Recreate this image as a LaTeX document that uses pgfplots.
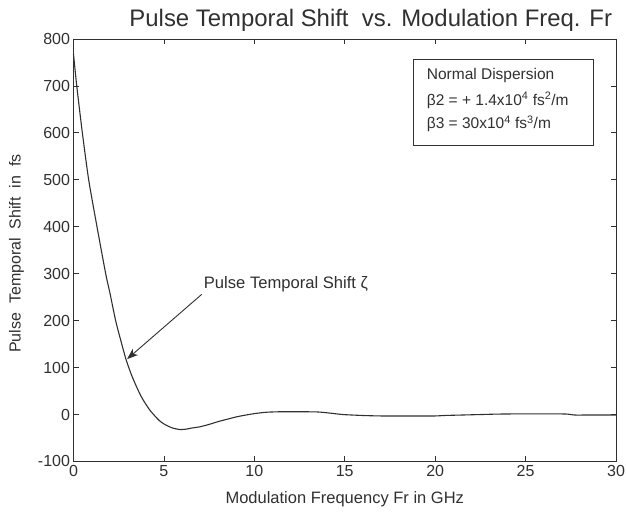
\documentclass[border=0pt]{standalone}
\usepackage{pgfplots}
\pgfplotsset{compat=1.18}
\usepackage{fontspec}
\setmainfont{Liberation Sans}
\usetikzlibrary{arrows.meta}
\definecolor{ink}{HTML}{303030}
\begin{document}
\begin{tikzpicture}
\begin{axis}[
  scale only axis,
  width=542.5pt, height=422.5pt,
  xmin=0, xmax=30, ymin=-100, ymax=800,
  xtick={0,5,...,30}, ytick={-100,0,...,800},
  tick align=inside,
  major tick length=5pt,
  axis line style={ink, line width=0.9pt},
  every tick/.style={ink, line width=0.8pt},
  tick label style={font=\fontsize{16}{19}\selectfont, text=ink},
  /pgf/number format/assume math mode=true,
  xlabel={Modulation Frequency Fr in GHz},
  ylabel={Pulse\ \ Temporal\ \ Shift\ \ in\ \ fs},
  xlabel style={at={(axis description cs:0.5,0)}, anchor=base, yshift=-42pt, font=\fontsize{16.5}{19}\selectfont, text=ink},
  ylabel style={at={(axis description cs:-0.105,0.492)}, anchor=center, font=\fontsize{16}{19}\selectfont, text=ink},
  title={Pulse Temporal Shift\ \ vs. Modulation Freq. Fr},
  title style={at={(axis description cs:0.548,1)}, anchor=base, yshift=6pt, font=\fontsize{23.9}{28}\selectfont, text=ink},
  clip=false,
]
\addplot[ink, line width=1.1pt, smooth, tension=0.4] coordinates {
(0,768) (0.18,700) (0.49,600) (0.84,500) (1.3,400) (1.78,300) (2.02,258)
(2.33,200) (2.6,160) (2.9,118) (3.2,85) (3.5,58) (3.75,38) (4.0,22)
(4.25,8) (4.5,-3) (4.75,-13) (5.0,-20) (5.25,-25) (5.5,-29) (5.9,-32)
(6.25,-31) (6.5,-29) (7.0,-26) (7.5,-21) (8.0,-15) (8.5,-10) (9.0,-5)
(9.4,-2) (10.0,2) (10.7,5) (11.5,6) (12.5,6) (13.5,5.5) (14.2,3) (14.9,0)
(16,-2) (17,-3) (18.6,-3) (20,-3) (20.5,-2) (21.5,-1) (22.5,0) (23.5,1)
(25,1.5) (26.5,1.5) (27.3,1) (27.7,-1) (28.5,-1) (30,-1)
};
\draw[ink, line width=0.9pt] (rel axis cs:0.626,0.952) rectangle (rel axis cs:0.958,0.748);
\node[anchor=west, inner sep=0pt, text=ink, font=\fontsize{15.5}{18}\selectfont] at (rel axis cs:0.651,0.9145) {Normal Dispersion};
\node[anchor=west, inner sep=0pt, text=ink, font=\fontsize{15.5}{18}\selectfont] at (rel axis cs:0.651,0.855) {β2 = + 1.4x10\textsuperscript{4} fs\textsuperscript{2}/m};
\node[anchor=west, inner sep=0pt, text=ink, font=\fontsize{15.5}{18}\selectfont] at (rel axis cs:0.651,0.800) {β3 = 30x10\textsuperscript{4} fs\textsuperscript{3}/m};
\draw[ink, line width=0.9pt, -{Stealth[length=11pt, width=8pt, inset=3pt]}] (axis cs:7.09,256) -- (axis cs:2.96,118);
\node[anchor=west, inner sep=0pt, text=ink, font=\fontsize{16.6}{19}\selectfont] at (axis cs:7.2,278) {Pulse Temporal Shift ζ};
\end{axis}
\pgfresetboundingbox
\path ([shift={(-73.5pt,-52.5pt)}]current axis.south west) rectangle ([shift={(10pt,39pt)}]current axis.north east);
\end{tikzpicture}
\end{document}
